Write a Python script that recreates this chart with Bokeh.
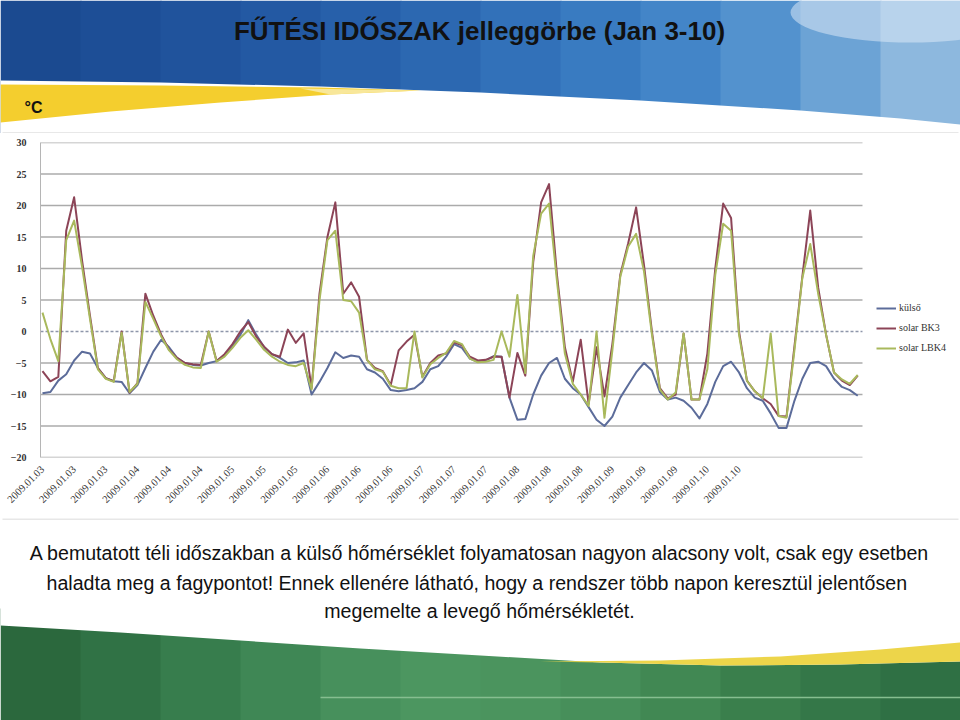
import math
from bokeh.plotting import figure
from bokeh.models import Range1d, FixedTicker, Legend, LegendItem, Label
from bokeh.embed import file_html
from bokeh.resources import INLINE

# ---------------- data (2-hour steps, 2009.01.03 - 2009.01.11) ----------------
steps = list(range(104))

kulso = [-9.8, -9.6, -7.8, -6.8, -4.6, -3.2, -3.5, -5.8, -7.4, -7.9,
         -8.0, -9.8, -8.5, -5.8, -3.2, -1.3, -2.5, -4.2, -5.0, -5.3,
         -5.4, -5.0, -4.7, -3.8, -2.4, -0.5, 1.8, -0.5, -2.5, -3.6,
         -4.2, -5.0, -4.9, -4.6, -10.0, -8.0, -5.8, -3.3, -4.2, -3.8,
         -4.0, -6.0, -6.5, -7.5, -9.3, -9.5, -9.3, -9.0, -8.0, -6.0,
         -5.5, -4.0, -2.0, -2.6, -4.3, -4.8, -4.6, -3.9, -4.0, -10.5,
         -14.0, -13.9, -10.0, -7.0, -5.0, -4.2, -7.5, -9.0, -10.0, -12.0,
         -14.0, -15.0, -13.5, -10.5, -8.5, -6.5, -5.0, -6.2, -9.6, -10.8,
         -10.5, -11.0, -12.1, -13.8, -11.5, -8.0, -5.5, -4.8, -6.5, -9.0,
         -10.5, -11.0, -13.0, -15.3, -15.3, -11.0, -7.5, -5.0, -4.8, -5.5,
         -7.5, -8.8, -9.3, -10.2]

solar_bk3 = [-6.3, -7.9, -7.2, 16.0, 21.3, 11.3, 2.5, -5.8, -7.4, -7.9,
             0.0, -9.7, -8.2, 6.0, 2.5, -0.5, -2.9, -4.2, -5.0, -5.2,
             -5.3, 0.0, -4.7, -3.6, -2.0, 0.0, 1.5, -0.8, -2.4, -3.6,
             -4.0, 0.3, -1.8, -0.3, -9.0, 6.0, 15.0, 20.5, 6.0, 7.8,
             5.5, -4.5, -5.8, -6.3, -8.5, -3.0, -1.6, -0.5, -7.2, -5.0,
             -3.8, -3.5, -1.7, -2.2, -4.0, -4.6, -4.5, -4.0, -4.0, -10.5,
             -3.4, -7.0, 11.0, 20.5, 23.4, 9.0, -2.5, -8.0, -1.3, -11.5,
             -2.5, -10.3, -2.0, 9.0, 14.0, 19.7, 10.5, 0.0, -9.0, -10.6,
             -10.0, -0.3, -10.8, -10.8, -3.5, 10.0, 20.3, 18.0, 0.0, -7.8,
             -9.5, -10.6, -11.5, -13.4, -13.5, -2.4, 8.7, 19.2, 7.0, -0.5,
             -6.5, -7.8, -8.5, -7.0]

solar_lbk4 = [3.0, -1.2, -4.7, 14.5, 17.6, 10.3, 2.0, -6.0, -7.5, -8.0,
              -0.2, -9.6, -8.3, 4.7, 2.0, -0.8, -3.0, -4.4, -5.3, -5.7,
              -5.8, 0.0, -4.8, -4.0, -2.6, -1.0, 0.2, -1.3, -2.9, -4.0,
              -4.8, -5.3, -5.5, -5.0, -9.2, 5.0, 14.5, 16.0, 5.0, 4.8,
              3.0, -4.5, -6.0, -6.4, -8.6, -9.0, -9.0, 0.0, -7.3, -5.2,
              -4.2, -3.4, -1.5, -2.0, -4.3, -4.9, -4.8, -4.5, 0.0, -4.0,
              5.8, -6.6, 12.0, 18.7, 20.3, 8.0, -3.5, -8.3, -10.0, -11.8,
              0.0, -13.7, -3.0, 8.7, 13.5, 15.5, 9.5, -0.5, -9.2, -10.8,
              -9.7, -0.3, -10.8, -10.8, -6.0, 9.0, 17.1, 16.0, -0.5, -7.8,
              -9.5, -10.6, -0.3, -13.4, -13.7, -3.0, 8.5, 13.9, 6.0, -0.5,
              -6.5, -7.6, -8.3, -6.9]

tick_positions = [0, 4, 8, 12, 16, 20, 24, 28, 32, 36, 40, 44, 48, 52, 56,
                  60, 64, 68, 72, 76, 80, 84, 88]
tick_labels = ["2009.01.03", "2009.01.03", "2009.01.03",
               "2009.01.04", "2009.01.04", "2009.01.04",
               "2009.01.05", "2009.01.05", "2009.01.05",
               "2009.01.06", "2009.01.06", "2009.01.06",
               "2009.01.07", "2009.01.07", "2009.01.07",
               "2009.01.08", "2009.01.08", "2009.01.08",
               "2009.01.09", "2009.01.09", "2009.01.09",
               "2009.01.10", "2009.01.10"]
y_ticks = [-20, -15, -10, -5, 0, 5, 10, 15, 20, 25, 30]
series_names = ["külső", "solar BK3", "solar LBK4"]
series_colors = ["#5C6C9A", "#8C4457", "#A9B95C"]

title_text = "FŰTÉSI IDŐSZAK jelleggörbe (Jan 3-10)"
unit_text = "°C"
body_lines = [
    "A bemutatott téli időszakban a külső hőmérséklet folyamatosan nagyon alacsony volt, csak egy esetben",
    "haladta meg a fagypontot!  Ennek ellenére látható, hogy a rendszer több napon keresztül jelentősen",
    "megemelte a levegő hőmérsékletét.",
]

SANS = "Liberation Sans"
X_START, X_PLOT_END, X_FRAME_END = -0.25, 103.6, 115.73


def deco_fig(height):
    f = figure(width=960, height=height, x_range=Range1d(0, 960),
               y_range=Range1d(height, 0), toolbar_location=None,
               output_backend="svg", min_border=0,
               x_axis_location=None, y_axis_location=None)
    f.outline_line_color = None
    f.grid.visible = False
    f.background_fill_color = "white"
    f.border_fill_color = "white"
    return f


# ---------------- header ----------------
h = deco_fig(133)
blues = ["#1B4A90", "#1D4E96", "#20539C", "#2359A3", "#2760AA", "#2C68B1",
         "#3271B9", "#397BC1", "#4385C8", "#5392CE", "#6CA3D5", "#8DB8DE"]
h.quad(left=[i * 80 for i in range(12)], right=[i * 80 + 81 for i in range(12)],
       top=0, bottom=133, color=blues, line_color=None)
h.ellipse(x=[910], y=[12], width=[240], height=[60], color="#E3EEF9",
          alpha=0.5, line_color=None)
h.patch(x=[0, 160, 320, 480, 640, 800, 900, 960, 960, 0],
        y=[80, 82, 86, 92, 100, 110, 118, 124, 133, 133],
        color="white", line_color=None)
h.patch(x=[0, 160, 320, 420, 330, 220, 110, 0],
        y=[84, 85, 87, 90, 94, 102, 111, 122],
        color="#F4CE2E", line_color=None)
h.patch(x=[300, 420, 330],
        y=[88, 90, 94], color="#F8E79A", line_color=None)
h.segment(x0=[2], y0=[132.5], x1=[958], y1=[132.5], color="#D0D0D0", line_width=1)
h.add_layout(Label(x=479, y=30, text=title_text, text_align="center",
                   text_baseline="middle", text_font=SANS, text_font_style="bold",
                   text_font_size="26px", text_color="#111111"))
h.add_layout(Label(x=24, y=107, text=unit_text, text_align="left",
                   text_baseline="middle", text_font=SANS,
                   text_font_style="bold", text_font_size="16px", text_color="#111111"))

# ---------------- chart ----------------
p = figure(width=960, height=385, x_range=Range1d(X_START, X_FRAME_END),
           y_range=Range1d(-20, 30), toolbar_location=None, output_backend="svg",
           min_border_left=40, min_border_right=2, min_border_top=9,
           min_border_bottom=61)
p.outline_line_color = None
p.background_fill_color = "white"
p.border_fill_color = "white"
p.xgrid.visible = False
p.ygrid.visible = False

# horizontal gridlines limited to the plot area (legend sits to the right)
grid_vals = [t for t in y_ticks if t != 0]
p.segment(x0=[X_START] * len(grid_vals), x1=[X_PLOT_END] * len(grid_vals),
          y0=grid_vals, y1=grid_vals, line_color="#ABABAB", line_width=1.5)
p.segment(x0=[X_START], x1=[X_PLOT_END], y0=[0], y1=[0],
          line_color="#8E96AA", line_width=1.5, line_dash="3 2")

p.yaxis.ticker = FixedTicker(ticks=y_ticks)
p.yaxis.axis_line_color = "#B5B5B5"
p.yaxis.major_tick_line_color = None
p.yaxis.minor_tick_line_color = None
p.yaxis.major_label_text_font = "Liberation Serif"
p.yaxis.major_label_text_font_style = "bold"
p.yaxis.major_label_text_font_size = "10px"
p.yaxis.major_label_text_color = "#333333"
p.yaxis.major_label_standoff = 8

p.xaxis.ticker = FixedTicker(ticks=tick_positions)
p.xaxis.major_label_overrides = {pos: lab for pos, lab in zip(tick_positions, tick_labels)}
p.xaxis.major_label_orientation = math.pi / 4
p.xaxis.axis_line_color = None
p.xaxis.major_tick_line_color = None
p.xaxis.minor_tick_line_color = None
p.xaxis.major_label_text_font = "Liberation Serif"
p.xaxis.major_label_text_font_size = "10.5px"
p.xaxis.major_label_text_color = "#333333"
p.xaxis.major_label_standoff = 4

renderers = []
for vals, col in zip([kulso, solar_bk3, solar_lbk4], series_colors):
    r = p.line(steps, vals, line_color=col, line_width=2, line_join="round")
    renderers.append(r)

legend = Legend(items=[LegendItem(label=n, renderers=[r]) for n, r in zip(series_names, renderers)],
                location=(836, 104), border_line_color=None, background_fill_alpha=0,
                label_text_font="Liberation Serif", label_text_font_size="10px",
                label_text_color="#333333", glyph_width=20, glyph_height=10,
                spacing=9, padding=2, margin=0, label_standoff=3)
p.add_layout(legend)

# ---------------- footer ----------------
f = deco_fig(202)
greens = ["#2B683D", "#307245", "#377D4D", "#3F8755", "#47905C", "#4C9660",
          "#4B945E", "#478F5A", "#418853", "#3A7F4C", "#347748", "#2F7044"]
f.quad(left=[i * 80 for i in range(12)], right=[i * 80 + 81 for i in range(12)],
       top=90, bottom=202, color=greens, line_color=None)
f.patch(x=[0, 960, 960, 840, 720, 600, 480, 360, 240, 120, 0],
        y=[0, 0, 143, 146, 147, 144, 137, 130, 122, 114, 107],
        color="white", line_color=None)
f.patch(x=[540, 660, 780, 880, 960, 960, 840, 720, 600],
        y=[143, 142, 138, 131, 124, 143, 146, 147, 144],
        color="#EDD54A", line_color=None)
f.segment(x0=[320], y0=[179], x1=[960], y1=[179], color="#86BE90", line_width=1.5)
f.segment(x0=[2], y0=[0.5], x1=[958], y1=[0.5], color="#D0D0D0", line_width=1)
for yy, txt in zip([34, 64, 92], body_lines):
    f.add_layout(Label(x=479, y=yy, text=txt, text_align="center",
                       text_baseline="middle", text_font=SANS,
                       text_font_size="19.6px", text_color="#111111"))

open("out.html", "w").write(file_html([h, p, f], INLINE))
